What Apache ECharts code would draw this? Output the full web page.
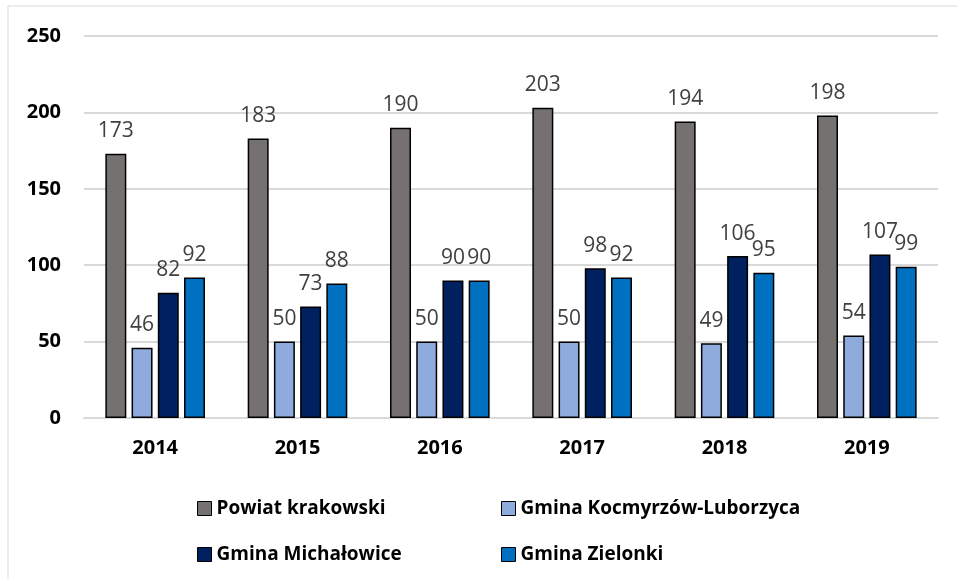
<!DOCTYPE html>
<html>
<head>
    <meta charset="utf-8">
    <title>Chart</title>
    <script src="https://cdn.jsdelivr.net/npm/echarts@6/dist/echarts.min.js"></script>
    <style>
        html, body { margin: 0; padding: 0; background: #fff; }
    </style>
</head>
<body>
    <div id="main" style="width: 957px;height:579px;"></div>
    <script type="text/javascript">
        var years = ['2014', '2015', '2016', '2017', '2018', '2019'];
        var seriesNames = ['Powiat krakowski', 'Gmina Kocmyrzów-Luborzyca', 'Gmina Michałowice', 'Gmina Zielonki'];
        var powiat = [173, 183, 190, 203, 194, 198];
        var kocmyrzow = [46, 50, 50, 50, 49, 54];
        var michalowice = [82, 73, 90, 98, 106, 107];
        var zielonki = [92, 88, 90, 92, 95, 99];
        var colors = ['#767171', '#8FAADC', '#002060', '#0070C0'];

        var font = '"Open Sans", "Noto Sans", sans-serif';

        function makeBar(name, data, color) {
            return {
                name: name,
                type: 'bar',
                data: data,
                barGap: '25%',
                barCategoryGap: '30%',
                itemStyle: { color: color, borderColor: '#000', borderWidth: 1.5 },
                label: {
                    show: true,
                    position: 'top',
                    distance: 12,
                    color: '#404040',
                    fontSize: 21,
                    fontFamily: font
                }
            };
        }

        // one legend per item so they sit in a 2x2 grid
        var legendSpots = [[192, 494], [496, 494], [192, 540], [496, 540]];
        var legends = seriesNames.map(function (n, i) {
            return {
                data: [n],
                left: legendSpots[i][0],
                top: legendSpots[i][1],
                icon: 'rect',
                itemWidth: 14,
                itemHeight: 14,
                itemStyle: { borderColor: '#000', borderWidth: 1 },
                textStyle: { fontSize: 19, fontWeight: 'bold', color: '#000', fontFamily: font },
                selectedMode: false
            };
        });

        var myChart = echarts.init(document.getElementById('main'));
        myChart.setOption({
            animation: false,
            color: colors,
            graphic: [
                { type: 'line', shape: { x1: 8, y1: 6, x2: 957, y2: 6 }, style: { stroke: '#D9D9D9', lineWidth: 1 } },
                { type: 'line', shape: { x1: 8, y1: 6, x2: 8, y2: 579 }, style: { stroke: '#D9D9D9', lineWidth: 1 } }
            ],
            legend: legends,
            grid: { left: 84, right: 19, top: 36, bottom: 161 },
            xAxis: {
                type: 'category',
                data: years,
                axisTick: { show: false },
                axisLine: { lineStyle: { color: '#D9D9D9', width: 2 } },
                axisLabel: { fontSize: 20, fontWeight: 'bold', color: '#000', fontFamily: font, margin: 20 }
            },
            yAxis: {
                type: 'value',
                min: 0,
                max: 250,
                interval: 50,
                axisLine: { show: false },
                axisTick: { show: false },
                splitLine: { lineStyle: { color: '#D9D9D9', width: 2 } },
                axisLabel: { fontSize: 20, fontWeight: 'bold', color: '#000', fontFamily: font, margin: 23 }
            },
            series: [
                makeBar(seriesNames[0], powiat, colors[0]),
                makeBar(seriesNames[1], kocmyrzow, colors[1]),
                makeBar(seriesNames[2], michalowice, colors[2]),
                makeBar(seriesNames[3], zielonki, colors[3])
            ]
        });
    </script>
</body>
</html>
